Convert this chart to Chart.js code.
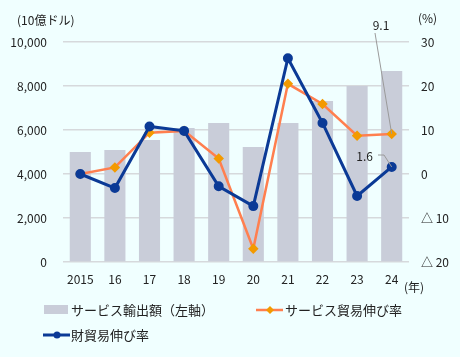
<!DOCTYPE html>
<html>
<head>
<meta charset="utf-8">
<script src="https://cdn.jsdelivr.net/npm/chart.js@4"></script>
<style>
  body { margin: 0; background: #f0ffff; }
  canvas { display: block; }
</style>
</head>
<body>
<canvas id="chart" width="460" height="357"></canvas>
<script>
const years = ["2015", "16", "17", "18", "19", "20", "21", "22", "23", "24"];
const serviceExports = [5000, 5090, 5545, 6090, 6320, 5230, 6320, 7320, 8000, 8680];
const serviceGrowth = [0.0, 1.5, 9.4, 9.8, 3.5, -17.0, 20.5, 15.9, 8.7, 9.1];
const goodsGrowth = [0.0, -3.2, 10.8, 9.8, -2.8, -7.3, 26.3, 11.6, -5.0, 1.6];

const fontFamily = "'Noto Sans CJK JP', 'Noto Sans', sans-serif";
const textColor = "#222";
const gridColor = "#d6d9dc";
const barColor = "#c9cdd9";
const orangeLine = "#ff7f4f";
const orangePoint = "#f39a00";
const blueLine = "#0b3a96";

// annotations + legend drawn on the canvas
const extras = {
    id: "extras",
    afterDraw(chart) {
        const ctx = chart.ctx;
        const x = chart.scales.x;
        const y2 = chart.scales.y2;
        ctx.save();
        ctx.font = "12px " + fontFamily;
        ctx.fillStyle = textColor;
        ctx.textBaseline = "middle";

        // unit labels
        ctx.textAlign = "left";
        ctx.fillText("(10億ドル)", 17, 20);
        ctx.fillText("(%)", 418, 18);
        ctx.fillText("(年)", 404, 287);

        // value callouts
        const last = years.length - 1;
        const px = x.getPixelForValue(last);
        ctx.strokeStyle = "#9a9a9a";
        ctx.lineWidth = 1;
        ctx.beginPath();
        ctx.moveTo(375, 33);
        ctx.lineTo(px, y2.getPixelForValue(serviceGrowth[last]));
        ctx.stroke();
        ctx.textAlign = "center";
        ctx.fillText(serviceGrowth[last].toFixed(1), 381, 25);

        ctx.beginPath();
        ctx.moveTo(378, 155);
        ctx.lineTo(384, 155);
        ctx.lineTo(px, y2.getPixelForValue(goodsGrowth[last]));
        ctx.stroke();
        ctx.textAlign = "right";
        ctx.fillText(goodsGrowth[last].toFixed(1), 373, 156);

        // legend
        ctx.font = "13px " + fontFamily;
        ctx.textAlign = "left";
        ctx.fillStyle = barColor;
        ctx.fillRect(44, 305, 24, 9);
        ctx.fillStyle = textColor;
        ctx.fillText("サービス輸出額（左軸）", 71, 310);

        ctx.strokeStyle = orangeLine;
        ctx.lineWidth = 2.5;
        ctx.beginPath();
        ctx.moveTo(256, 310);
        ctx.lineTo(283, 310);
        ctx.stroke();
        ctx.fillStyle = orangePoint;
        ctx.beginPath();
        ctx.moveTo(270, 306);
        ctx.lineTo(274, 310);
        ctx.lineTo(270, 314);
        ctx.lineTo(266, 310);
        ctx.closePath();
        ctx.fill();
        ctx.fillStyle = textColor;
        ctx.fillText("サービス貿易伸び率", 285, 310);

        ctx.strokeStyle = blueLine;
        ctx.lineWidth = 3;
        ctx.beginPath();
        ctx.moveTo(43, 335);
        ctx.lineTo(70, 335);
        ctx.stroke();
        ctx.fillStyle = blueLine;
        ctx.beginPath();
        ctx.arc(57, 335, 3.5, 0, Math.PI * 2);
        ctx.fill();
        ctx.fillStyle = textColor;
        ctx.fillText("財貿易伸び率", 71, 335);
        ctx.restore();
    },
};

new Chart(document.getElementById("chart"), {
    data: {
        labels: years,
        datasets: [
            {
                type: "line",
                label: "財貿易伸び率",
                data: goodsGrowth,
                yAxisID: "y2",
                borderColor: blueLine,
                backgroundColor: blueLine,
                borderWidth: 3,
                pointRadius: 3.5,
                pointStyle: "circle",
                tension: 0,
                order: 1,
            },
            {
                type: "line",
                label: "サービス貿易伸び率",
                data: serviceGrowth,
                yAxisID: "y2",
                borderColor: orangeLine,
                backgroundColor: orangePoint,
                pointBorderColor: orangePoint,
                borderWidth: 2.5,
                pointRadius: 3.5,
                pointStyle: "rectRot",
                tension: 0,
                order: 2,
            },
            {
                type: "bar",
                label: "サービス輸出額（左軸）",
                data: serviceExports,
                yAxisID: "y",
                backgroundColor: barColor,
                categoryPercentage: 1,
                barPercentage: 0.61,
                order: 3,
            },
        ],
    },
    options: {
        responsive: false,
        animation: false,
        layout: { padding: { top: 42, bottom: 70, left: 0, right: 0 } },
        plugins: {
            legend: { display: false },
            tooltip: { enabled: false },
        },
        scales: {
            x: {
                grid: { display: false },
                border: { display: false },
                ticks: { color: textColor, font: { family: fontFamily, size: 12 }, padding: 2, maxRotation: 0 },
                afterFit: (s) => { s.height = 25; },
            },
            y: {
                position: "left",
                min: 0,
                max: 10000,
                ticks: {
                    stepSize: 2000,
                    color: textColor,
                    padding: 16,
                    font: { family: fontFamily, size: 12 },
                    callback: (v) => v.toLocaleString("en-US"),
                },
                grid: { color: gridColor, lineWidth: 1.5, drawTicks: false },
                border: { display: false },
                afterFit: (s) => { s.width = 63; },
            },
            y2: {
                position: "right",
                min: -20,
                max: 30,
                ticks: {
                    stepSize: 10,
                    color: textColor,
                    padding: 12,
                    font: { family: fontFamily, size: 12 },
                    callback: (v) => (v < 0 ? "△ " + -v : v),
                },
                grid: { display: false, drawTicks: false },
                border: { display: false },
                afterFit: (s) => { s.width = 51; },
            },
        },
    },
    plugins: [extras],
});
</script>
</body>
</html>
